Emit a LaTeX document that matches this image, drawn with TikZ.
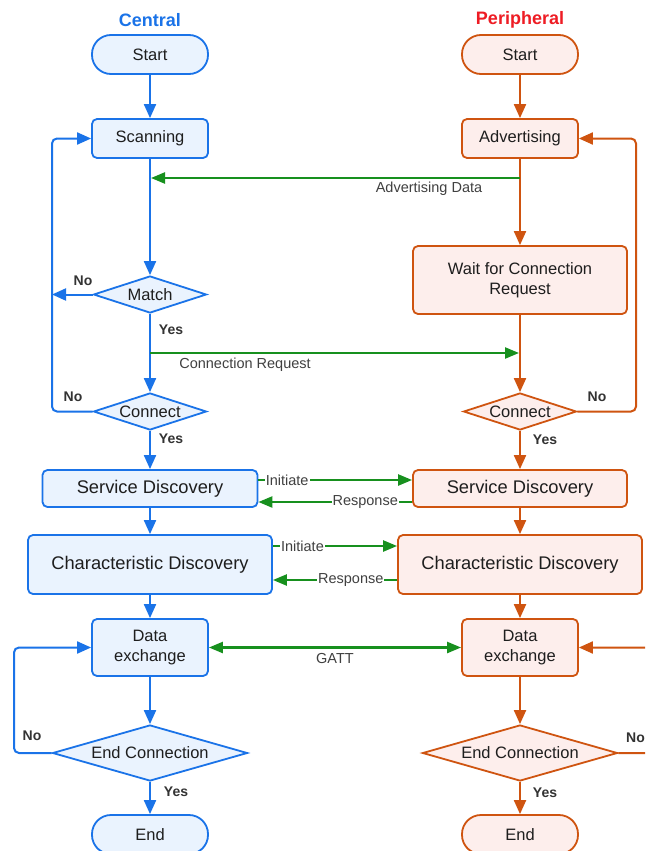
\documentclass[tikz,border=0pt]{standalone}
\usepackage{fontspec}
\setmainfont{Liberation Sans}
\usetikzlibrary{arrows.meta,shapes.geometric}
\definecolor{cenBlue}{HTML}{1A73E8}
\definecolor{cenFill}{HTML}{EAF3FE}
\definecolor{perOrange}{HTML}{CF5410}
\definecolor{perFill}{HTML}{FDEEEC}
\definecolor{msgGreen}{HTML}{17901E}
\definecolor{perRed}{HTML}{EE1C24}
\definecolor{lblGray}{HTML}{404040}
\definecolor{ynGray}{HTML}{333333}
\definecolor{nodeInk}{HTML}{1E1E1E}

\begin{document}
\begin{tikzpicture}[x=1pt,y=-1pt,
  shapebase/.style={draw, line width=1.8pt, align=center, inner sep=0pt,
    text=nodeInk, font=\fontsize{16.5}{20.5}\selectfont},
  cen/.style={shapebase, draw=cenBlue, fill=cenFill},
  per/.style={shapebase, draw=perOrange, fill=perFill},
  pill/.style={rounded corners=19pt, minimum width=116pt, minimum height=39pt},
  plainbox/.style={rounded corners=5pt},
  bigtext/.style={font=\fontsize{18.3}{22}\selectfont},
  dia/.style={diamond, shape aspect=3.05, minimum width=113pt, minimum height=37pt},
  bigdia/.style={diamond, shape aspect=3.48, minimum width=195pt, minimum height=56pt},
  flowtip/.style={-{Triangle[length=14pt,width=12pt]}},
  cflow/.style={flowtip, draw=cenBlue, line width=2pt},
  pflow/.style={flowtip, draw=perOrange, line width=2pt},
  msg/.style={-{Triangle[length=14pt,width=11pt]}, draw=msgGreen, line width=2.3pt},
  msglbl/.style={text=lblGray, font=\fontsize{14.5}{17}\selectfont, inner sep=1pt},
  onlbl/.style={msglbl, fill=white},
  yn/.style={text=ynGray, font=\bfseries\fontsize{14}{17}\selectfont, inner sep=0pt},
  title/.style={font=\bfseries\fontsize{18}{22}\selectfont}
]
\useasboundingbox (0,0) rectangle (645,851);
\clip (0,0) rectangle (645,851);
\fill[white] (0,0) rectangle (645,851);

% column titles
\node[title, text=cenBlue] (titleL) at (150,20) {Central};
\node[title, text=perRed] (titleR) at (520,20) {Peripheral};

% central column
\node[cen,pill] (startL) at (150,54.5) {Start};
\node[cen,plainbox,minimum width=116pt,minimum height=39pt] (scanL) at (150,138.5) {Scanning};
\node[cen,dia] (matchL) at (150,294.5) {Match};
\node[cen,dia] (connL) at (150,411.5) {Connect};
\node[cen,plainbox,bigtext,minimum width=215pt,minimum height=37pt] (svcL) at (150,488.5) {Service Discovery};
\node[cen,plainbox,bigtext,minimum width=244pt,minimum height=59pt] (chrL) at (150,564.5) {Characteristic Discovery};
\node[cen,plainbox,minimum width=116pt,minimum height=57pt] (dataL) at (150,647.5) {Data\\exchange};
\node[cen,bigdia] (endcL) at (150,753) {End Connection};
\node[cen,pill] (endL) at (150,834.5) {End};

% peripheral column
\node[per,pill] (startR) at (520,54.5) {Start};
\node[per,plainbox,minimum width=116pt,minimum height=39pt] (advR) at (520,138.5) {Advertising};
\node[per,plainbox,minimum width=214pt,minimum height=68pt] (waitR) at (520,280) {Wait for Connection\\Request};
\node[per,dia] (connR) at (520,411.5) {Connect};
\node[per,plainbox,bigtext,minimum width=214pt,minimum height=37pt] (svcR) at (520,488.5) {Service Discovery};
\node[per,plainbox,bigtext,minimum width=244pt,minimum height=59pt] (chrR) at (520,564.5) {Characteristic Discovery};
\node[per,plainbox,minimum width=116pt,minimum height=57pt] (dataR) at (520,647.5) {Data\\exchange};
\node[per,bigdia] (endcR) at (520,753) {End Connection};
\node[per,pill] (endR) at (520,834.5) {End};

% central flow
\draw[cflow] (startL) -- (scanL);
\draw[cflow] (scanL) -- (matchL);
\draw[cflow] (matchL) -- (connL);
\draw[cflow] (connL) -- (svcL);
\draw[cflow] (svcL) -- (chrL);
\draw[cflow] (chrL) -- (dataL);
\draw[cflow] (dataL) -- (endcL);
\draw[cflow] (endcL) -- (endL);
\coordinate (matchNo) at (52,294.5);
\draw[cflow] (matchL.west) -- (matchNo);
\draw[cflow, rounded corners=5pt] (connL.west) -- (52,411.5) -- (52,138.5) -- (scanL.west);
\draw[cflow, rounded corners=5pt] (endcL.west) -- (14,753) -- (14,647.5) -- (dataL.west);

% peripheral flow
\draw[pflow] (startR) -- (advR);
\draw[pflow] (advR) -- (waitR);
\draw[pflow] (waitR) -- (connR);
\draw[pflow] (connR) -- (svcR);
\draw[pflow] (svcR) -- (chrR);
\draw[pflow] (chrR) -- (dataR);
\draw[pflow] (dataR) -- (endcR);
\draw[pflow] (endcR) -- (endR);
\draw[pflow, rounded corners=5pt] (connR.east) -- (636,411.5) -- (636,138.5) -- (advR.east);
\draw[pflow, rounded corners=5pt] (endcR.east) -- (660,753) -- (660,647.5) -- (dataR.east);

% messages between the two sides
\coordinate (advTap) at (520,178);
\coordinate (scanTap) at (151,178);
\draw[msg] (advTap) -- (scanTap);
\node[msglbl] (advLbl) at (429,189) {Advertising Data};

\coordinate (reqTap) at (150,353);
\coordinate (waitTap) at (519,353);
\draw[msg] (reqTap) -- (waitTap);
\node[msglbl] (reqLbl) at (245,365) {Connection Request};

\draw[msg] ([yshift=8.5pt]svcL.east) -- node[onlbl, pos=0.187] (svcIni) {Initiate} ([yshift=8.5pt]svcR.west);
\draw[msg] ([yshift=-13.5pt]svcR.west) -- node[onlbl, pos=0.305] (svcRes) {Response} ([yshift=-13.5pt]svcL.east);
\draw[msg] ([yshift=18.5pt]chrL.east) -- node[onlbl, pos=0.238] (chrIni) {Initiate} ([yshift=18.5pt]chrR.west);
\draw[msg] ([yshift=-15.5pt]chrR.west) -- node[onlbl, pos=0.373] (chrRes) {Response} ([yshift=-15.5pt]chrL.east);

\draw[msg, {Triangle[length=14pt,width=11pt]}-{Triangle[length=14pt,width=11pt]}] (dataL) -- (dataR);
\node[msglbl] (gattLbl) at (335,659) {GATT};

% decision labels
\node[yn] (noMatch) at (83,281) {No};
\node[yn] (yesMatch) at (171,330) {Yes};
\node[yn] (noConnL) at (73,397) {No};
\node[yn] (yesConnL) at (171,439) {Yes};
\node[yn] (noConnR) at (597,397) {No};
\node[yn] (yesConnR) at (545,440) {Yes};
\node[yn] (noEndL) at (32,736) {No};
\node[yn] (yesEndL) at (176,792) {Yes};
\node[yn, anchor=west] (noEndR) at (626,738) {No};
\node[yn] (yesEndR) at (545,793) {Yes};
\end{tikzpicture}
\end{document}
